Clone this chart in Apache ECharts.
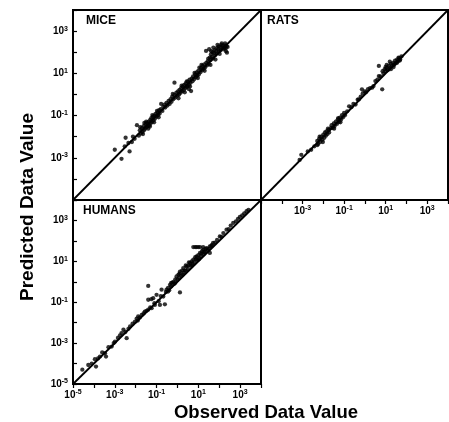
<!DOCTYPE html>
<html><head><meta charset="utf-8">
<script src="https://cdn.jsdelivr.net/npm/echarts@6/dist/echarts.min.js"></script>
<style>html,body{margin:0;padding:0;background:#fff}#c{width:449px;height:422px}</style>
</head><body><div id="c"></div>
<script>
// ---------- data ----------
const axisRange = [1e-5, 1e4];
const panelNames = ['MICE', 'RATS', 'HUMANS'];
const yTitle = 'Predicted Data Value';
const xTitle = 'Observed Data Value';
const miceYLabelExps = [-3, -1, 1, 3];
const ratsXLabelExps = [-3, -1, 1, 3];
const humansXLabelExps = [-5, -3, -1, 1, 3];
const humansYLabelExps = [-5, -3, -1, 1, 3];
const diagonal = [[1e-5, 1e-5], [1e4, 1e4]];

const micePoints = [
  [1.0e-3,2.4e-3],[2.1e-3,8.9e-4],[3.0e-3,3.5e-3],[5.1e-3,2.0e-3],[3.3e-3,8.9e-3],[6.6e-3,5.6e-3],
  [7.4e-3,1.0e-2],[1.15e-2,3.5e-2],[4.5e-3,5.0e-3],[8.9e-3,7.9e-3],
  [1.41e-2,1.12e-2],[1.58e-2,2.0e-2],[1.78e-2,1.41e-2],[2.0e-2,2.5e-2],[2.1e-2,1.66e-2],[2.4e-2,3.16e-2],
  [2.5e-2,2.0e-2],[2.8e-2,2.4e-2],[3.0e-2,4.0e-2],[3.3e-2,2.8e-2],[3.5e-2,4.5e-2],[3.8e-2,3.2e-2],
  [4.2e-2,5.2e-2],[4.5e-2,3.5e-2],[5.0e-2,6.3e-2],[5.2e-2,4.2e-2],[5.6e-2,7.6e-2],[6.0e-2,5.0e-2],
  [6.6e-2,8.9e-2],[7.1e-2,6.0e-2],[7.9e-2,1.0e-1],[8.3e-2,7.1e-2],[8.9e-2,0.12],[0.10,8.9e-2],
  [0.112,0.141],[0.12,0.105],[0.132,0.178],[0.141,0.126],
  [1.66e-2,2.8e-2],[2.24e-2,1.32e-2],[3.2e-2,5.2e-2],[4.0e-2,2.4e-2],[6.3e-2,0.105],[7.6e-2,4.8e-2],
  [0.105,0.166],[0.126,8.3e-2],[2.6e-2,4.5e-2],[4.8e-2,3.0e-2],
  [0.158,0.20],[0.166,0.355],[0.19,0.166],[0.21,0.26],[0.24,0.33],[0.26,0.24],[0.30,0.40],[0.33,0.30],
  [0.38,0.50],[0.42,0.355],[0.47,0.60],
  [0.52,0.45],[0.56,0.79],[0.63,0.60],[0.71,0.95],[0.72,3.6],[0.79,0.71],[0.89,1.2],[1.0,0.89],
  [1.07,1.41],[1.2,1.0],[1.26,1.66],[1.41,1.2],[1.51,2.0],[1.66,1.41],[1.78,2.4],[2.0,1.58],
  [2.1,2.8],[2.4,2.0],[2.5,3.3],[2.8,2.24],[3.0,2.5],[3.16,4.0],[3.55,2.8],[3.8,5.0],[4.2,3.55],
  [4.5,1.45],[4.8,5.6],[3.55,1.78],
  [0.60,1.05],[1.12,0.66],[1.58,2.6],[2.24,1.26],[2.8,4.2],[4.0,2.4],[6.6,10.5],[9.5,6.0],
  [14.1,25],[20,13.2],[30,50],[38,25],
  [5.25,4.2],[5.6,7.1],[6.3,5.25],[7.1,8.9],[7.6,6.6],[8.3,11.2],[8.9,7.9],[10,13.2],[10.5,8.9],
  [11.2,18.6],[12.6,11.2],[13.2,17.8],[15.1,14.1],[15.8,22.4],[17.8,16.6],[19.1,26.3],[20.9,19.1],
  [23.4,115],[24,31.6],[26.3,24],[28.2,38],[31.6,28.2],
  [35.5,56],[38,41.7],[39.8,79],[44.7,60],[47.9,100],[50,50],[56,89],[60,126],[63,71],[71,112],
  [76,158],[79,89],[89,141],[95,191],[100,112],[112,178],[120,126],[126,224],[141,158],[151,200],
  [166,141],[174,166],[191,209],[200,151],[224,191],[234,95],[251,178],[33,138],[41.7,112],
  [52.5,166],[83,224],[132,263],[191,263],[105,83],[209,112],[66,44.7]
];

const ratsPoints = [
  [8.7e-4,1.38e-3],[7.2e-4,7.9e-4],[2.6e-3,2.4e-3],[3.7e-3,3.5e-3],[1.78e-3,2.0e-3],
  [5.1e-3,6.3e-3],[5.6e-3,4.5e-3],[6.3e-3,7.9e-3],[7.1e-3,5.6e-3],[7.9e-3,1.0e-2],[8.9e-3,7.1e-3],
  [1.0e-2,1.26e-2],[1.12e-2,8.9e-3],[1.2e-2,1.58e-2],[1.32e-2,1.12e-2],[1.41e-2,1.78e-2],
  [1.58e-2,1.32e-2],[1.78e-2,2.1e-2],[1.9e-2,1.58e-2],[5.2e-3,4.0e-3],
  [6.6e-3,1.0e-2],[9.5e-3,5.6e-3],[1.66e-2,2.4e-2],[3.3e-2,2.4e-2],[5.2e-2,7.6e-2],[6.6e-2,4.8e-2],
  [2.24e-2,2.5e-2],[2.5e-2,3.5e-2],[2.8e-2,2.6e-2],[3.2e-2,4.2e-2],[3.5e-2,3.2e-2],[4.0e-2,5.2e-2],
  [4.5e-2,4.0e-2],[5.0e-2,6.6e-2],[5.6e-2,5.0e-2],[6.3e-2,7.9e-2],[7.1e-2,6.3e-2],[7.9e-2,0.105],
  [8.9e-2,8.3e-2],[0.10,0.132],[0.112,0.105],
  [0.141,0.158],[0.174,0.275],[0.224,0.25],[0.28,0.355],[0.355,0.33],[0.45,0.56],[0.51,0.58],
  [0.63,0.79],[0.72,1.74],[0.79,1.12],[1.0,1.41],[1.12,1.26],[1.41,1.78],[1.78,2.0],[2.24,2.1],
  [2.6,2.5],[6.8,1.74],[3.2,4.3],[4.7,7.4],[4.7,22.4],[4.0,5.0],[5.6,7.1],
  [7.1,12.6],[7.9,10],[8.9,15.8],[10,12.6],[11.2,17.8],[12.6,14.1],[14.1,22.4],[15.8,17.8],
  [17.8,28.2],[20,22.4],[22.4,31.6],[25,25],[28.2,40],[31.6,31.6],[35.5,44.7],[40,38],
  [44.7,52.5],[50,44.7],[57.5,63],[11.2,25],[15.8,35.5],[24,20],
  [10,20],[17.8,15.8],[28.2,28.2],[41.7,56],[35.5,31.6],[47.9,40]
];

const humansPoints = [
  [2.8e-5,5.0e-5],[5.4e-5,8.5e-5],[7.9e-5,1.0e-4],[1.26e-4,7.1e-5],[1.12e-4,1.62e-4],[1.58e-4,1.78e-4],
  [1.95e-4,2.2e-4],[2.5e-4,3.5e-4],[3.4e-4,3.2e-4],[3.8e-4,2.2e-4],[5.0e-4,6.3e-4],[7.1e-4,6.8e-4],
  [8.9e-4,1.0e-3],[1.02e-3,1.17e-3],[1.41e-3,1.78e-3],[1.78e-3,2.4e-3],[2.1e-3,3.1e-3],[2.6e-3,4.5e-3],
  [3.7e-3,1.74e-3],[4.5e-3,5.0e-3],[5.4e-3,6.5e-3],[7.1e-3,8.9e-3],[9.3e-3,1.12e-2],[1.12e-2,1.58e-2],
  [1.32e-2,2.0e-2],[1.58e-2,1.78e-2],[1.95e-2,2.4e-2],[2.4e-2,2.8e-2],[2.75e-2,3.5e-2],[3.3e-2,3.8e-2],
  [4.0e-2,4.3e-2],[5.0e-2,5.6e-2],[5.8e-2,5.1e-2],
  [3.2e-3,3.5e-3],[1.26e-2,1.26e-2],[7.9e-2,8.9e-2],[0.158,0.20],
  [4.0e-2,0.63],[4.0e-2,0.132],[6.9e-2,0.158],[5.6e-2,0.141],[0.10,0.23],[8.3e-2,7.4e-2],
  [0.145,7.4e-2],[0.25,7.9e-2],[0.174,0.41],[0.21,0.19],[0.126,0.112],[1.32,0.30],
  [0.28,0.32],[0.30,0.41],[0.355,0.50],[0.40,0.38],[0.44,0.71],[0.50,0.60],[0.56,0.89],[0.63,1.0],
  [0.71,0.79],[0.79,1.32],[0.91,1.82],[1.0,1.26],[1.12,2.24],[1.2,1.58],[1.32,3.16],[1.51,2.0],
  [1.66,3.55],[1.9,4.7],[2.0,2.8],
  [0.355,0.33],[0.50,0.89],[0.79,0.89],[1.26,2.5],[1.78,2.24],[2.5,3.55],[3.3,6.3],[5.0,6.3],
  [7.6,12.6],[10.5,12.6],[14.1,24],[22.4,40],[19,28.2],[41.7,56],
  [2.24,3.55],[2.5,6.3],[2.75,5.6],[3.16,4.2],[3.55,8.9],[4.0,8.3],[4.2,6.0],[4.8,10],[5.25,7.6],
  [5.75,12],[6.3,8.9],[7.1,15.8],[8.3,17.4],[8.9,11.2],[10,20],[11.2,14.1],[12,25.7],[13.2,17.8],
  [15.1,31.6],[17,37],[17.8,22.4],[20.9,30],[25,44.7],[28.2,35.5],[35.5,53.7],[35.5,25.7],[31.6,40],
  [5.75,50],[7.1,50],[8.3,50],[10,50],[12,50],[17,50],
  [44.7,63],[51,79],[63,83],[79,112],[107,166],[126,158],[158,240],[224,355],[282,380],[355,562],
  [468,759],[631,891],[794,1200],[977,1480],[1260,1780],[1580,2240],[2040,2820],[2510,3310]
];

// ---------- chart ----------
const FONT = '"Liberation Sans", Arial, Helvetica, sans-serif';
const chart = echarts.init(document.getElementById('c'), null, {renderer: 'canvas'});

function labelFormatter(exps) {
  return function (v) {
    const e = Math.round(Math.log10(v));
    return exps.indexOf(e) >= 0 ? '{b|10}{s|' + e + '}' : '';
  };
}
const richStyle = {
  b: {fontFamily: FONT, fontWeight: 'bold', fontSize: 10, color: '#000', lineHeight: 12},
  s: {fontFamily: FONT, fontWeight: 'bold', fontSize: 7, color: '#000', verticalAlign: 'top', lineHeight: 8}
};
function logAxis(gridIndex, o) {
  return {
    type: 'log', logBase: 10, gridIndex: gridIndex,
    min: axisRange[0], max: axisRange[1],
    splitLine: {show: false},
    axisLine: {show: false},
    axisTick: {show: !!o.ticks, inside: !!o.inside, length: 4, lineStyle: {color: '#000', width: 1.2}},
    axisLabel: o.labels ? {show: true, margin: o.margin, formatter: labelFormatter(o.labels), rich: richStyle} : {show: false}
  };
}
const gridBase = {show: true, borderColor: '#000', borderWidth: 2, backgroundColor: 'transparent', outerBoundsMode: 'none'};

function scatterSeries(idx, pts) {
  return {type: 'scatter', xAxisIndex: idx, yAxisIndex: idx, data: pts, symbol: 'circle', symbolSize: 4.3,
    itemStyle: {color: '#000'}, silent: true, z: 3};
}
function diagSeries(idx) {
  return {type: 'line', xAxisIndex: idx, yAxisIndex: idx, data: diagonal, showSymbol: false, symbol: 'none',
    lineStyle: {color: '#000', width: 1.8}, silent: true, z: 2};
}

chart.setOption({
  animation: false,
  backgroundColor: '#fff',
  grid: [
    Object.assign({left: 73, top: 10, width: 188, height: 190}, gridBase),
    Object.assign({left: 261, top: 10, width: 187, height: 190}, gridBase),
    Object.assign({left: 73, top: 200, width: 188, height: 184}, gridBase)
  ],
  xAxis: [
    logAxis(0, {}),
    logAxis(1, {ticks: true, inside: false, labels: ratsXLabelExps, margin: 5}),
    logAxis(2, {ticks: true, inside: false, labels: humansXLabelExps, margin: 5})
  ],
  yAxis: [
    logAxis(0, {ticks: true, inside: true, labels: miceYLabelExps, margin: 5}),
    logAxis(1, {}),
    logAxis(2, {ticks: true, inside: true, labels: humansYLabelExps, margin: 5})
  ],
  series: [
    diagSeries(0), scatterSeries(0, micePoints),
    diagSeries(1), scatterSeries(1, ratsPoints),
    diagSeries(2), scatterSeries(2, humansPoints)
  ],
  graphic: [
    {type: 'text', left: 86, top: 15, style: {text: panelNames[0], font: 'bold 12px ' + FONT, fill: '#000'}},
    {type: 'text', left: 267, top: 15, style: {text: panelNames[1], font: 'bold 12px ' + FONT, fill: '#000'}},
    {type: 'text', left: 83, top: 205, style: {text: panelNames[2], font: 'bold 12px ' + FONT, fill: '#000'}},
    {type: 'text', x: 28, y: 207, rotation: Math.PI / 2,
      style: {text: yTitle, font: 'bold 19px ' + FONT, fill: '#000', align: 'center', verticalAlign: 'middle'}},
    {type: 'text', x: 266, y: 413,
      style: {text: xTitle, font: 'bold 18.5px ' + FONT, fill: '#000', align: 'center', verticalAlign: 'middle'}}
  ]
});
</script>
</body></html>
